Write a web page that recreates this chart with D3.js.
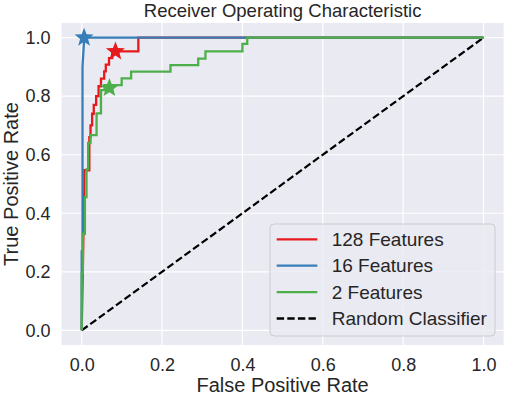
<!DOCTYPE html>
<html>
<head>
<meta charset="utf-8">
<script src="https://cdn.jsdelivr.net/npm/d3@7"></script>
<style>
  body { margin: 0; background: #fff; }
  text { font-family: "Liberation Sans", Arial, sans-serif; fill: #262626; }
</style>
</head>
<body>
<script>
// ROC curves
const fpr128 = [0, 0.004, 0.0065, 0.0065, 0.019, 0.019, 0.022, 0.022, 0.026, 0.026, 0.03, 0.03, 0.036, 0.036, 0.042, 0.042, 0.048, 0.048, 0.056, 0.056, 0.06, 0.06, 0.068, 0.068, 0.076, 0.076, 0.141, 0.141, 1]
const tpr128 = [0, 0.3, 0.5, 0.547, 0.547, 0.66, 0.66, 0.70, 0.70, 0.74, 0.74, 0.77, 0.77, 0.80, 0.80, 0.834, 0.834, 0.86, 0.86, 0.885, 0.885, 0.908, 0.908, 0.93, 0.93, 0.953, 0.953, 1, 1]

const fpr16 = [0, 0, 0.002, 0.002, 0.005, 0.007, 1]
const tpr16 = [0, 0.27, 0.27, 0.9, 0.97, 1, 1]

const fpr2 = [0, 0, 0.003, 0.003, 0.008, 0.008, 0.012, 0.012, 0.016, 0.016, 0.022, 0.022, 0.037, 0.037, 0.048, 0.048, 0.057, 0.057, 0.0995, 0.0995, 0.123, 0.123, 0.221, 0.221, 0.29, 0.29, 0.308, 0.308, 0.40, 0.40, 0.412, 0.412, 1]
const tpr2 = [0, 0.195, 0.195, 0.33, 0.33, 0.455, 0.455, 0.55, 0.55, 0.64, 0.64, 0.667, 0.667, 0.741, 0.741, 0.821, 0.821, 0.838, 0.838, 0.861, 0.861, 0.884, 0.884, 0.906, 0.906, 0.928, 0.928, 0.953, 0.953, 0.979, 0.979, 1, 1]

const seriesNames = ["128 Features", "16 Features", "2 Features"]
const seriesColors = ["#e41a1c", "#377eb8", "#4daf4a"]
// best threshold points (stars)
const bestFpr = [0.084, 0.006, 0.069]
const bestTpr = [0.953, 1.0, 0.828]

const ticks = [0, 0.2, 0.4, 0.6, 0.8, 1.0]

const W = 505, H = 395
const pL = 61.6, pR = 503.6, pT = 23, pB = 345

const svg = d3.select("body").append("svg")
  .attr("width", W).attr("height", H)

const x = d3.scaleLinear().domain([-0.05, 1.05]).range([pL, pR])
const y = d3.scaleLinear().domain([-0.05, 1.05]).range([pB, pT])

svg.append("rect")
  .attr("x", pL).attr("y", pT)
  .attr("width", pR - pL).attr("height", pB - pT)
  .attr("fill", "#eaeaf2")

// grid
svg.append("g").selectAll("line").data(ticks).enter().append("line")
  .attr("x1", d => x(d)).attr("x2", d => x(d))
  .attr("y1", pT).attr("y2", pB)
  .attr("stroke", "#fff").attr("stroke-width", 1.2)
svg.append("g").selectAll("line").data(ticks).enter().append("line")
  .attr("y1", d => y(d)).attr("y2", d => y(d))
  .attr("x1", pL).attr("x2", pR)
  .attr("stroke", "#fff").attr("stroke-width", 1.2)

// axes
const xAxis = svg.append("g")
  .attr("transform", `translate(0,${pB})`)
  .call(d3.axisBottom(x).tickValues(ticks).tickFormat(d3.format(".1f")).tickSize(0).tickPadding(13))
const yAxis = svg.append("g")
  .attr("transform", `translate(${pL},0)`)
  .call(d3.axisLeft(y).tickValues(ticks).tickFormat(d3.format(".1f")).tickSize(0).tickPadding(11))
;[xAxis, yAxis].forEach(a => {
  a.select(".domain").remove()
  a.selectAll("text").attr("font-size", "18px").attr("fill", "#262626")
    .attr("font-family", "'Liberation Sans', Arial, sans-serif")
})

const line = d3.line().x(d => x(d[0])).y(d => y(d[1]))

// random classifier diagonal
svg.append("path")
  .attr("d", line([[0, 0], [1, 1]]))
  .attr("fill", "none").attr("stroke", "#000")
  .attr("stroke-width", 2.2).attr("stroke-dasharray", "7.4,3.2")

const curves = [[fpr128, tpr128], [fpr16, tpr16], [fpr2, tpr2]]
curves.forEach((c, i) => {
  svg.append("path")
    .attr("d", line(d3.zip(c[0], c[1])))
    .attr("fill", "none").attr("stroke", seriesColors[i])
    .attr("stroke-width", 2.3).attr("stroke-linejoin", "miter")
})

// star markers
function starPath(R, r) {
  const pts = d3.range(10).map(k => {
    const a = -Math.PI / 2 + k * Math.PI / 5
    const rad = k % 2 === 0 ? R : r
    return [rad * Math.cos(a), rad * Math.sin(a)]
  })
  return "M" + pts.join("L") + "Z"
}
seriesNames.forEach((n, i) => {
  svg.append("path")
    .attr("d", starPath(10, 4.2))
    .attr("transform", `translate(${x(bestFpr[i])},${y(bestTpr[i])})`)
    .attr("fill", seriesColors[i])
})

// legend
const lg = svg.append("g")
lg.append("rect")
  .attr("x", 270).attr("y", 224).attr("width", 225).attr("height", 112)
  .attr("rx", 4).attr("fill", "#eaeaf2").attr("fill-opacity", 0.8)
  .attr("stroke", "#cccccc").attr("stroke-width", 1)
const legendNames = seriesNames.concat(["Random Classifier"])
const legendColors = seriesColors.concat(["#000"])
legendNames.forEach((n, i) => {
  const ly = 239.3 + i * 26.4
  lg.append("line")
    .attr("x1", 276.7).attr("x2", 317.3).attr("y1", ly).attr("y2", ly)
    .attr("stroke", legendColors[i]).attr("stroke-width", 2.3)
    .attr("stroke-dasharray", i === 3 ? "7.4,3.2" : null)
  lg.append("text")
    .attr("x", 331.7).attr("y", ly).attr("dy", "0.35em")
    .attr("font-size", "19px").text(n)
})

// titles
svg.append("text")
  .attr("x", (pL + pR) / 2).attr("y", 17)
  .attr("text-anchor", "middle").attr("font-size", "18.5px")
  .text("Receiver Operating Characteristic")
svg.append("text")
  .attr("x", (pL + pR) / 2).attr("y", 391.5)
  .attr("text-anchor", "middle").attr("font-size", "20px")
  .text("False Positive Rate")
svg.append("text")
  .attr("transform", `translate(17.5,${(pT + pB) / 2}) rotate(-90)`)
  .attr("text-anchor", "middle").attr("font-size", "20px")
  .text("True Positive Rate")
</script>
</body>
</html>
